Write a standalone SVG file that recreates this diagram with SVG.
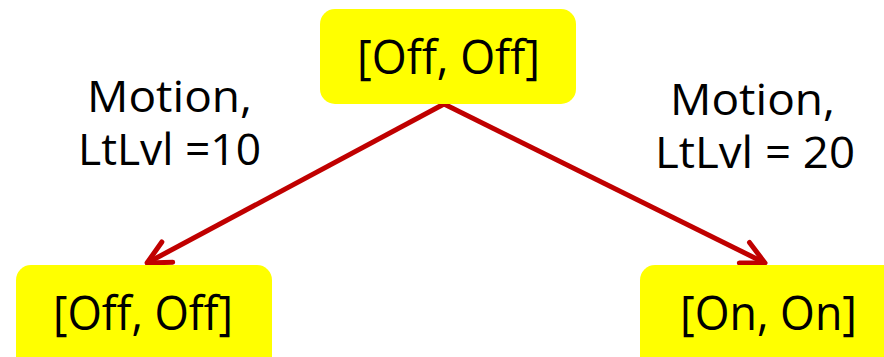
<svg xmlns="http://www.w3.org/2000/svg" width="884" height="357" viewBox="0 0 884 357">
  <style>
    .node rect { fill: #FFFF00; }
    .node text, .label text { font-family: "Open Sans", "Liberation Sans", sans-serif; fill: #000; }
    .node text { font-size: 47px; }
    .label text { font-size: 43px; }
    .edge { stroke: #C00000; stroke-width: 5; fill: none; }
  </style>
  <defs>
    <marker id="chevron" markerUnits="userSpaceOnUse" markerWidth="40" markerHeight="40" viewBox="-30 -20 40 40" refX="0" refY="0" orient="auto">
      <path d="M -23 -11.5 L 0 0 L -23 11.5" stroke="#C00000" stroke-width="5" fill="none" stroke-linecap="round" stroke-linejoin="round"/>
    </marker>
  </defs>

  <g id="connectors">
    <line class="edge" x1="444" y1="104" x2="147" y2="263" marker-end="url(#chevron)"/>
    <line class="edge" x1="444" y1="104" x2="765" y2="263" marker-end="url(#chevron)"/>
  </g>

  <g id="state-root" class="node">
    <rect x="320" y="9" width="256" height="95" rx="15" ry="15"/>
    <text x="357" y="74" textLength="183" lengthAdjust="spacingAndGlyphs">[Off, Off]</text>
  </g>

  <g id="state-left" class="node">
    <rect x="16" y="265" width="256" height="110" rx="15" ry="15"/>
    <text x="53" y="330" textLength="180" lengthAdjust="spacingAndGlyphs">[Off, Off]</text>
  </g>

  <g id="state-right" class="node">
    <rect x="640" y="265" width="260" height="110" rx="15" ry="15"/>
    <text x="680" y="330" textLength="177" lengthAdjust="spacingAndGlyphs">[On, On]</text>
  </g>

  <g id="label-left" class="label">
    <text x="87" y="112" textLength="165" lengthAdjust="spacingAndGlyphs">Motion,</text>
    <text x="78" y="165" textLength="183" lengthAdjust="spacingAndGlyphs">LtLvl =10</text>
  </g>

  <g id="label-right" class="label">
    <text x="670" y="115" textLength="165" lengthAdjust="spacingAndGlyphs">Motion,</text>
    <text x="655" y="168" textLength="200" lengthAdjust="spacingAndGlyphs">LtLvl = 20</text>
  </g>
</svg>
